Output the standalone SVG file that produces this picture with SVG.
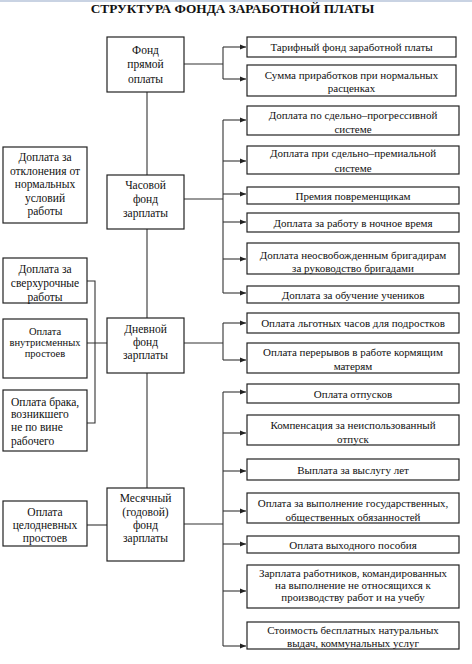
<svg xmlns="http://www.w3.org/2000/svg" width="472" height="664" viewBox="0 0 472 664">
<style>
.bx{fill:#fff;stroke:#222;stroke-width:1.2}
.t{font-family:"Liberation Serif","Times New Roman",serif;font-size:11px;fill:#111;text-anchor:middle;dominant-baseline:central}
.m{font-size:11.5px}
.l{font-size:11.5px}
.s{font-size:10.5px}
.st{text-anchor:start}
.ttl{font-family:"Liberation Serif","Times New Roman",serif;font-size:13.3px;font-weight:bold;fill:#111;text-anchor:middle}
.c{fill:none;stroke:#333;stroke-width:1.1}
</style>
<defs>
<marker id="ah" viewBox="0 0 6 6" refX="6" refY="3" markerWidth="6" markerHeight="6" markerUnits="userSpaceOnUse" orient="auto">
<path d="M0,0.5 L6,3 L0,5.5 Z" fill="#222"/>
</marker>
</defs>
<rect x="0" y="0" width="472" height="2" fill="#c9d3e3"/>
<text class="ttl" x="232.5" y="13">СТРУКТУРА ФОНДА ЗАРАБОТНОЙ ПЛАТЫ</text>

<g id="connectors">
<path class="c" d="M147,92 V488"/>
<path class="c" d="M184,64 H223 M223,47 V79"/>
<path class="c" marker-end="url(#ah)" d="M223,47 H246"/>
<path class="c" marker-end="url(#ah)" d="M223,79 H246"/>
<path class="c" d="M184,199 H223 M223,120 V293"/>
<path class="c" marker-end="url(#ah)" d="M223,120 H246"/>
<path class="c" marker-end="url(#ah)" d="M223,161 H246"/>
<path class="c" marker-end="url(#ah)" d="M223,194 H246"/>
<path class="c" marker-end="url(#ah)" d="M223,222 H246"/>
<path class="c" marker-end="url(#ah)" d="M223,259 H246"/>
<path class="c" marker-end="url(#ah)" d="M223,293 H246"/>
<path class="c" d="M184,343 H223 M223,323 V360"/>
<path class="c" marker-end="url(#ah)" d="M223,323 H246"/>
<path class="c" marker-end="url(#ah)" d="M223,360 H246"/>
<path class="c" d="M184,524 H223 M223,392 V646"/>
<path class="c" marker-end="url(#ah)" d="M223,392 H246"/>
<path class="c" marker-end="url(#ah)" d="M223,433 H246"/>
<path class="c" marker-end="url(#ah)" d="M223,471 H246"/>
<path class="c" marker-end="url(#ah)" d="M223,511 H246"/>
<path class="c" marker-end="url(#ah)" d="M223,544 H246"/>
<path class="c" marker-end="url(#ah)" d="M223,591 H246"/>
<path class="c" marker-end="url(#ah)" d="M223,646 H246"/>
<path class="c" d="M87,343 H107 M87,281 H95 V423 H87"/>
<path class="c" d="M87,525 H107"/>
</g>

<g id="fond-pryamoy">
<rect class="bx" x="107" y="37" width="77" height="55"/>
<text class="t m" x="145.5" y="50">Фонд</text>
<text class="t m" x="145.5" y="64">прямой</text>
<text class="t m" x="145.5" y="79">оплаты</text>
</g>
<g id="chasovoy">
<rect class="bx" x="107" y="175" width="77" height="54"/>
<text class="t m" x="145.5" y="185">Часовой</text>
<text class="t m" x="145.5" y="199">фонд</text>
<text class="t m" x="145.5" y="213">зарплаты</text>
</g>
<g id="dnevnoy">
<rect class="bx" x="107" y="318" width="77" height="55"/>
<text class="t m" x="145.5" y="329">Дневной</text>
<text class="t m" x="145.5" y="342">фонд</text>
<text class="t m" x="145.5" y="355">зарплаты</text>
</g>
<g id="mesyachny">
<rect class="bx" x="107" y="488" width="77" height="73"/>
<text class="t m" x="145.5" y="498">Месячный</text>
<text class="t m" x="145.5" y="512">(годовой)</text>
<text class="t m" x="145.5" y="525">фонд</text>
<text class="t m" x="145.5" y="538">зарплаты</text>
</g>

<g id="otkloneniya">
<rect class="bx" x="3" y="147" width="84" height="76"/>
<text class="t l" x="45" y="157">Доплата за</text>
<text class="t l" x="45" y="171">отклонения от</text>
<text class="t l" x="45" y="184">нормальных</text>
<text class="t l" x="45" y="198">условий</text>
<text class="t l" x="45" y="211">работы</text>
</g>
<g id="sverhurochnye">
<rect class="bx" x="3" y="258" width="84" height="45"/>
<text class="t l" x="45" y="269">Доплата за</text>
<text class="t l" x="45" y="283">сверхурочные</text>
<text class="t l" x="45" y="297">работы</text>
</g>
<g id="vnutrismennye">
<rect class="bx" x="3" y="319" width="84" height="59"/>
<text class="t s" x="45" y="331">Оплата</text>
<text class="t s" x="45" y="342">внутрисменных</text>
<text class="t s" x="45" y="353">простоев</text>
</g>
<g id="brak">
<rect class="bx" x="3" y="390" width="84" height="61"/>
<text class="t l st" x="11" y="402">Оплата брака,</text>
<text class="t l st" x="11" y="414">возникшего</text>
<text class="t l st" x="11" y="427">не по вине</text>
<text class="t l st" x="11" y="441">рабочего</text>
</g>
<g id="celodnevnye">
<rect class="bx" x="3" y="501" width="84" height="45"/>
<text class="t l" x="45" y="512">Оплата</text>
<text class="t l" x="45" y="525">целодневных</text>
<text class="t l" x="45" y="538">простоев</text>
</g>

<g id="tarifny">
<rect class="bx" x="247" y="37" width="209" height="20"/>
<text class="t" x="351.5" y="47">Тарифный фонд заработной платы</text>
</g>
<g id="prirabotki">
<rect class="bx" x="247" y="65" width="209" height="31"/>
<text class="t" x="351.5" y="75">Сумма приработков при нормальных</text>
<text class="t" x="351.5" y="88">расценках</text>
</g>
<g id="progressivnaya">
<rect class="bx" x="247" y="106" width="212" height="29"/>
<text class="t" x="353" y="115">Доплата по сдельно–прогрессивной</text>
<text class="t" x="353" y="129">системе</text>
</g>
<g id="premialnaya">
<rect class="bx" x="247" y="146" width="212" height="28"/>
<text class="t" x="353" y="153">Доплата при сдельно–премиальной</text>
<text class="t" x="353" y="168">системе</text>
</g>
<g id="premiya">
<rect class="bx" x="247" y="187" width="212" height="17"/>
<text class="t" x="353" y="195.5">Премия повременщикам</text>
</g>
<g id="nochnoe">
<rect class="bx" x="247" y="213" width="212" height="19"/>
<text class="t" x="353" y="222.5">Доплата за работу в ночное время</text>
</g>
<g id="brigadiry">
<rect class="bx" x="247" y="243" width="212" height="31"/>
<text class="t" x="353" y="255">Доплата неосвобожденным бригадирам</text>
<text class="t" x="353" y="268">за руководство бригадами</text>
</g>
<g id="obuchenie">
<rect class="bx" x="247" y="286" width="212" height="17"/>
<text class="t" x="353" y="294.5">Доплата за обучение учеников</text>
</g>
<g id="lgotnye">
<rect class="bx" x="247" y="313" width="212" height="20"/>
<text class="t" x="353" y="323">Оплата льготных часов для подростков</text>
</g>
<g id="pereryvy">
<rect class="bx" x="247" y="343" width="212" height="30"/>
<text class="t" x="353" y="352">Оплата перерывов в работе кормящим</text>
<text class="t" x="353" y="366">матерям</text>
</g>
<g id="otpuski">
<rect class="bx" x="247" y="384" width="212" height="19"/>
<text class="t" x="353" y="393.5">Оплата отпусков</text>
</g>
<g id="kompensaciya">
<rect class="bx" x="247" y="415" width="212" height="30"/>
<text class="t" x="353" y="425">Компенсация за неиспользованный</text>
<text class="t" x="353" y="439">отпуск</text>
</g>
<g id="vysluga">
<rect class="bx" x="247" y="459" width="212" height="21"/>
<text class="t" x="353" y="469.5">Выплата за выслугу лет</text>
</g>
<g id="gosobyazannosti">
<rect class="bx" x="247" y="493" width="212" height="30"/>
<text class="t" x="353" y="503">Оплата за выполнение государственных,</text>
<text class="t" x="353" y="517">общественных обязанностей</text>
</g>
<g id="vyhodnoe">
<rect class="bx" x="247" y="536" width="212" height="17"/>
<text class="t" x="353" y="544.5">Оплата выходного пособия</text>
</g>
<g id="komandirovannye">
<rect class="bx" x="247" y="565" width="212" height="43"/>
<text class="t" x="353" y="573">Зарплата работников, командированных</text>
<text class="t" x="353" y="585">на выполнение не относящихся к</text>
<text class="t" x="353" y="597">производству работ и на учебу</text>
</g>
<g id="naturalnye">
<rect class="bx" x="247" y="622" width="212" height="27"/>
<text class="t" x="353" y="630">Стоимость бесплатных натуральных</text>
<text class="t" x="353" y="643">выдач, коммунальных услуг</text>
</g>
</svg>
